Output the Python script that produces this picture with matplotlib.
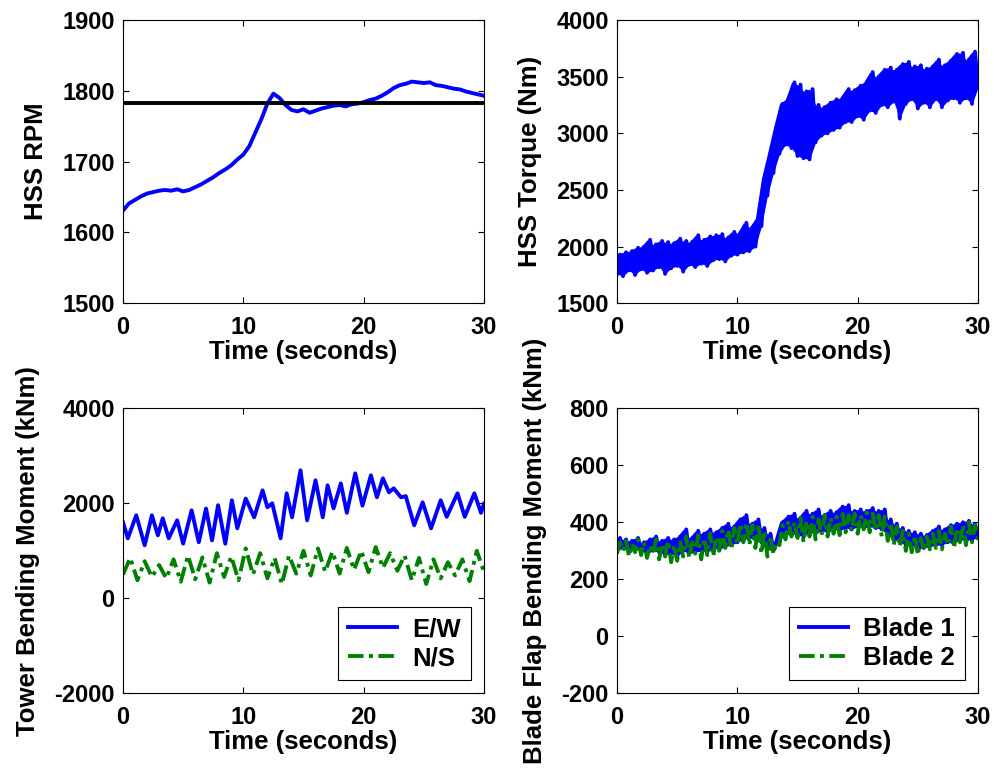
"""Wind turbine response: HSS speed/torque, tower and blade-flap bending moments."""

import matplotlib

matplotlib.use("Agg")
import matplotlib.pyplot as plt
import numpy as np

plt.rcParams["axes.unicode_minus"] = False

# ---- data (time in seconds, 0..30) ----
rpm_values = [
    1631, 1641, 1646, 1651, 1655, 1657, 1659, 1660, 1659, 1661, 1658, 1660,
    1664, 1668, 1673, 1678, 1684, 1689, 1695, 1703, 1710, 1722, 1741, 1760,
    1782, 1796, 1790, 1780, 1773, 1771, 1774, 1769, 1772, 1775, 1777, 1779,
    1780, 1778, 1781, 1782, 1784, 1787, 1789, 1793, 1798, 1804, 1808, 1810,
    1813, 1812, 1811, 1812, 1808, 1807, 1805, 1803, 1802, 1799, 1797, 1795,
    1793,
]
rpm_rated = 1783

torque_lo = [
    1760, 1740, 1790, 1750, 1800, 1770, 1790, 1820, 1760, 1810, 1830, 1780,
    1840, 1820, 1850, 1830, 1880, 1890, 1870, 1920, 1930, 1950, 1960, 2000,
    2180, 2450, 2650, 2820, 2900, 2870, 2800, 2780, 2770, 2920, 2980, 3000,
    3030, 3050, 3100, 3100, 3150, 3120, 3200, 3180, 3250, 3230, 3280, 3130,
    3260, 3300, 3220, 3270, 3230, 3300, 3230, 3290, 3310, 3270, 3310, 3260,
    3400,
]
torque_hi = [
    1930, 1950, 1960, 1990, 2000, 2060, 2020, 2050, 2040, 2030, 2070, 2050,
    2040, 2100, 2060, 2090, 2100, 2110, 2080, 2130, 2120, 2210, 2170, 2250,
    2600, 2820, 3050, 3260, 3300, 3450, 3430, 3370, 3390, 3250, 3230, 3270,
    3300, 3310, 3390, 3380, 3420, 3450, 3540, 3500, 3560, 3580, 3560, 3610,
    3630, 3590, 3600, 3570, 3590, 3650, 3600, 3640, 3700, 3710, 3650, 3720,
    3560,
]

# tower E/W: turning points (time, value)
ew_time = [
    0.0, 0.4, 1.1, 1.8, 2.4, 2.9, 3.3, 3.8, 4.5, 5.0, 5.7, 6.3, 6.9, 7.4,
    7.9, 8.5, 9.05, 9.5, 10.2, 10.9, 11.6, 12.0, 12.4, 13.1, 13.6, 14.05,
    14.75, 15.3, 16.0, 16.6, 17.0, 17.5, 18.1, 18.6, 19.3, 19.9, 20.6, 21.1,
    21.6, 22.1, 22.5, 23.1, 23.5, 24.2, 24.9, 25.6, 26.4, 26.9, 27.8, 28.4,
    29.2, 29.75, 30.0,
]
ew_values = [
    1600, 1263, 1747, 1116, 1747, 1326, 1684, 1263, 1642, 1150, 1852, 1180,
    1890, 1220, 1960, 1150, 2063, 1473, 2100, 1705, 2273, 1916, 2000, 1263,
    2210, 1705, 2694, 1642, 2484, 1705, 2379, 1894, 2420, 1800, 2631, 1950,
    2589, 2126, 2526, 2231, 2315, 2126, 2150, 1537, 2021, 1473, 2063, 1716,
    2210, 1716, 2210, 1800, 1990,
]
ns_values = [
    500, 850, 380, 780, 450, 700, 420, 820, 350, 900, 400, 860, 330, 950,
    450, 880, 380, 1050, 500, 950, 420, 850, 300, 900, 520, 1000, 480, 1050,
    560, 980, 520, 1060, 600, 1000, 550, 1080, 640, 950, 580, 900, 380, 850,
    300, 820, 420, 760, 480, 820, 360, 1000, 550,
]

blade1_lo = [
    300, 310, 295, 305, 300, 290, 300, 295, 285, 290, 280, 300, 290, 295,
    300, 295, 310, 305, 315, 320, 330, 340, 345, 340, 330, 305, 300, 340,
    355, 360, 355, 350, 365, 360, 370, 365, 375, 370, 380, 375, 385, 380,
    385, 380, 375, 355, 340, 330, 320, 320, 305, 310, 315, 320, 320, 330,
    325, 340, 335, 340, 345,
]
blade1_hi = [
    345, 340, 335, 345, 330, 340, 350, 335, 345, 340, 350, 375, 345, 370,
    360, 375, 365, 380, 395, 385, 410, 425, 395, 410, 380, 360, 330, 400,
    420, 430, 415, 440, 430, 445, 425, 440, 435, 455, 460, 440, 445, 440,
    450, 440, 445, 410, 395, 380, 370, 365, 360, 355, 370, 385, 375, 390,
    395, 400, 405, 395, 385,
]
blade2_lo = [
    290, 300, 280, 295, 285, 275, 290, 270, 280, 260, 265, 280, 275, 290,
    270, 285, 280, 300, 310, 305, 320, 330, 320, 310, 290, 280, 290, 320,
    340, 350, 345, 330, 350, 340, 355, 350, 360, 355, 365, 370, 360, 375,
    365, 370, 350, 335, 320, 315, 300, 295, 285, 300, 305, 310, 305, 320,
    310, 330, 320, 330, 340,
]
blade2_hi = [
    330, 335, 325, 340, 330, 320, 340, 325, 335, 320, 330, 350, 330, 355,
    345, 360, 350, 370, 375, 380, 395, 400, 390, 395, 370, 340, 330, 390,
    405, 400, 415, 405, 420, 410, 425, 415, 420, 430, 425, 430, 425, 435,
    430, 425, 420, 400, 385, 370, 360, 355, 345, 350, 360, 370, 360, 385,
    380, 390, 400, 390, 395,
]

BLUE = "#0000FF"
GREEN = "#008000"
LW = 2.8
DASHDOT = (0, (4.0, 1.4, 1.0, 1.4))
LABEL_FONT = {"family": "Liberation Sans", "weight": "bold", "size": 18.5}


def zigzag(lo, hi):
    """Interleave lower/upper envelope samples into one jagged trace."""
    t = np.linspace(0, 30, len(lo))
    half = (t[1] - t[0]) / 2
    tt = np.column_stack([t, t + half]).ravel()[:-1]
    yy = np.column_stack([lo, hi]).ravel()[:-1]
    return tt, yy


def band(ax, lo, hi, color):
    """Filled envelope plus jagged edge trace."""
    t = np.linspace(0, 30, len(lo))
    ax.fill_between(t, lo, hi, color=color, lw=0)
    tt, yy = zigzag(lo, hi)
    ax.plot(tt, yy, color=color, lw=LW)


def style_axis(ax, ylim, yticks, ylabel):
    ax.set_xlim(0, 30)
    ax.set_xticks([0, 10, 20, 30])
    ax.set_ylim(*ylim)
    ax.set_yticks(yticks)
    ax.set_xlabel("Time (seconds)", fontdict=LABEL_FONT, labelpad=1)
    ax.set_ylabel(ylabel, fontdict=LABEL_FONT, labelpad=10)
    ax.tick_params(direction="in", length=4, width=0.8, top=True, right=True,
                   labelsize=17)
    ax.tick_params(axis="x", pad=9)
    ax.tick_params(axis="y", pad=6)
    for lab in ax.get_xticklabels() + ax.get_yticklabels():
        lab.set_fontfamily("Liberation Sans")
        lab.set_fontweight("bold")
    for sp in ax.spines.values():
        sp.set_linewidth(0.8)


def main():
    fig = plt.figure(figsize=(9.95, 7.71), dpi=100)
    w = 361 / 995
    ax_rpm = fig.add_axes([123 / 995, 1 - 303.3 / 771, w, 283.3 / 771])
    ax_trq = fig.add_axes([617 / 995, 1 - 303.3 / 771, w, 283.3 / 771])
    ax_twr = fig.add_axes([123 / 995, 1 - 693.3 / 771, w, 285 / 771])
    ax_bld = fig.add_axes([617 / 995, 1 - 693.3 / 771, w, 285 / 771])

    # HSS speed
    t_rpm = np.linspace(0, 30, len(rpm_values))
    ax_rpm.plot(t_rpm, rpm_values, color=BLUE, lw=LW)
    ax_rpm.axhline(rpm_rated, color="black", lw=2.8)
    style_axis(ax_rpm, (1500, 1900), [1500, 1600, 1700, 1800, 1900], "HSS RPM")

    # HSS torque
    band(ax_trq, torque_lo, torque_hi, BLUE)
    style_axis(ax_trq, (1500, 4000), [1500, 2000, 2500, 3000, 3500, 4000],
               "HSS Torque (Nm)")

    # tower base bending
    t_ns = np.linspace(0, 30, len(ns_values))
    ax_twr.plot(ew_time, ew_values, color=BLUE, lw=LW, label="E/W")
    ax_twr.plot(t_ns, ns_values, color=GREEN, lw=LW, ls=DASHDOT, label="N/S")
    style_axis(ax_twr, (-2000, 4000), [-2000, 0, 2000, 4000],
               "Tower Bending Moment (kNm)")

    # blade flap bending
    band(ax_bld, blade1_lo, blade1_hi, BLUE)
    tb2, yb2 = zigzag(blade2_lo, blade2_hi)
    ax_bld.plot(tb2, yb2, color=GREEN, lw=LW, ls=DASHDOT)
    style_axis(ax_bld, (-200, 800), [-200, 0, 200, 400, 600, 800],
               "Blade Flap Bending Moment (kNm)")
    ax_bld.plot([], [], color=BLUE, lw=LW, label="Blade 1")
    ax_bld.plot([], [], color=GREEN, lw=LW, ls=DASHDOT, label="Blade 2")

    for ax in (ax_twr, ax_bld):
        leg = ax.legend(loc="lower right", prop=LABEL_FONT, fancybox=False,
                        framealpha=1, edgecolor="black", borderpad=0.4,
                        labelspacing=0.2, handlelength=1.9, handletextpad=0.6,
                        borderaxespad=0.5)
        leg.get_frame().set_linewidth(0.8)

    fig.savefig("out.png", dpi=100)
    plt.close(fig)


if __name__ == "__main__":
    main()
